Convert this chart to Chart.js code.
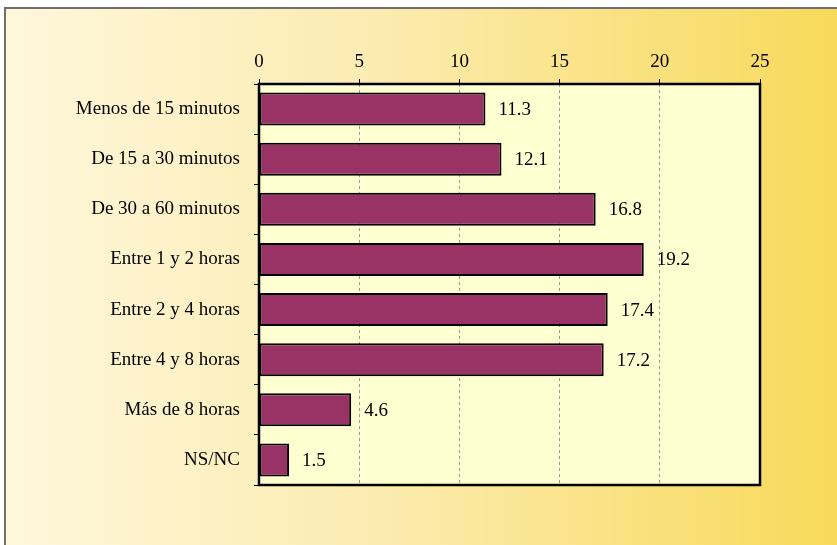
<!DOCTYPE html>
<html>
<head>
<meta charset="utf-8">
<script src="https://cdn.jsdelivr.net/npm/chart.js@4"></script>
<style>
  body { margin: 0; background: #fff; }
  #caja { width: 837px; height: 545px; }
</style>
</head>
<body>
<div id="caja"><canvas id="grafico-tiempo" width="837" height="545"></canvas></div>
<script>
// Datos
const categorias = [
    'Menos de 15 minutos',
    'De 15 a 30 minutos',
    'De 30 a 60 minutos',
    'Entre 1 y 2 horas',
    'Entre 2 y 4 horas',
    'Entre 4 y 8 horas',
    'Más de 8 horas',
    'NS/NC'
];
const porcentajes = [11.3, 12.1, 16.8, 19.2, 17.4, 17.2, 4.6, 1.5];
const ticksX = [0, 5, 10, 15, 20, 25];

const fuente = "'Liberation Serif', 'Times New Roman', serif";

// Fondo degradado, marco exterior y área de trazado amarilla
const fondo = {
    id: 'fondo',
    beforeDraw(chart) {
        const { ctx, width, height, chartArea: a } = chart;
        ctx.save();
        ctx.fillStyle = '#fff';
        ctx.fillRect(0, 0, width, height);
        const g = ctx.createLinearGradient(5, 0, width, 0);
        g.addColorStop(0, '#FEF7DB');
        g.addColorStop(0.45, '#FCEBB0');
        g.addColorStop(1, '#F8D95A');
        ctx.fillStyle = g;
        ctx.fillRect(5, 8, width - 5, height - 8);
        ctx.strokeStyle = '#6e6e6e';
        ctx.lineWidth = 2;
        ctx.beginPath();
        ctx.moveTo(5, height);
        ctx.lineTo(5, 8);
        ctx.lineTo(width, 8);
        ctx.stroke();
        ctx.fillStyle = '#FFFFD2';
        ctx.fillRect(a.left, a.top, a.right - a.left, a.bottom - a.top);
        ctx.restore();
    }
};

// Marco del área y etiquetas de valor
const etiquetas = {
    id: 'etiquetas',
    afterDatasetsDraw(chart) {
        const { ctx, chartArea: a } = chart;
        ctx.save();
        ctx.strokeStyle = '#000';
        ctx.lineWidth = 2.5;
        ctx.strokeRect(a.left, a.top, a.right - a.left, a.bottom - a.top);
        ctx.fillStyle = '#000';
        ctx.font = '19px ' + fuente;
        ctx.textAlign = 'left';
        ctx.textBaseline = 'middle';
        chart.getDatasetMeta(0).data.forEach((barra, i) => {
            ctx.fillText(porcentajes[i].toFixed(1), barra.x + 13, barra.y + 1);
        });
        ctx.restore();
    }
};

new Chart(document.getElementById('grafico-tiempo'), {
    type: 'bar',
    data: {
        labels: categorias,
        datasets: [{
            data: porcentajes,
            backgroundColor: '#993366',
            borderColor: '#000',
            borderWidth: 2,
            borderSkipped: false,
            barPercentage: 0.66,
            categoryPercentage: 1
        }]
    },
    options: {
        indexAxis: 'y',
        responsive: false,
        animation: false,
        layout: { padding: { top: 0, right: 77, bottom: 60, left: 0 } },
        plugins: {
            legend: { display: false },
            tooltip: { enabled: false }
        },
        scales: {
            x: {
                position: 'top',
                min: 0,
                max: 25,
                afterBuildTicks: s => { s.ticks = ticksX.map(v => ({ value: v })); },
                afterFit: s => { s.height = 84; },
                ticks: {
                    color: '#000',
                    padding: 6,
                    font: { family: fuente, size: 19 }
                },
                grid: {
                    color: '#999',
                    lineWidth: 1,
                    tickColor: '#000',
                    tickLength: 5,
                    tickBorderDash: []
                },
                border: { display: false, dash: [3, 3] }
            },
            y: {
                afterFit: s => { s.width = 259; },
                ticks: {
                    color: '#000',
                    padding: 14,
                    font: { family: fuente, size: 19 }
                },
                grid: {
                    offset: true,
                    drawOnChartArea: false,
                    tickColor: '#000',
                    tickLength: 5
                },
                border: { display: false }
            }
        }
    },
    plugins: [fondo, etiquetas]
});
</script>
</body>
</html>
